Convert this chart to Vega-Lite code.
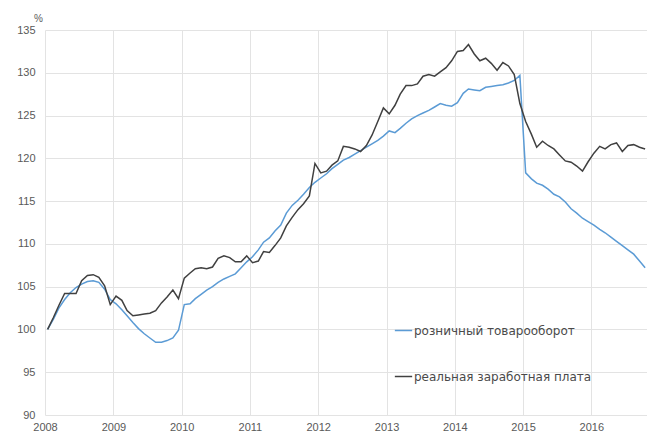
{
  "$schema": "https://vega.github.io/schema/vega-lite/v6.json",
  "width": 602,
  "height": 385,
  "autosize": {"type": "none"},
  "padding": {"left": 45, "top": 30, "right": 0, "bottom": 19},
  "background": "white",
  "config": {"view": {"stroke": null}, "font": "Liberation Sans"},
  "data": {"values": [
    {"date": "2008-01-15", "retail": 100.0, "wage": 100.0},
    {"date": "2008-02-15", "retail": 101.2, "wage": 101.4},
    {"date": "2008-03-15", "retail": 102.5, "wage": 102.8},
    {"date": "2008-04-15", "retail": 103.5, "wage": 104.2},
    {"date": "2008-05-15", "retail": 104.3, "wage": 104.2},
    {"date": "2008-06-15", "retail": 104.9, "wage": 104.2},
    {"date": "2008-07-15", "retail": 105.3, "wage": 105.7},
    {"date": "2008-08-15", "retail": 105.6, "wage": 106.3},
    {"date": "2008-09-15", "retail": 105.7, "wage": 106.4},
    {"date": "2008-10-15", "retail": 105.5, "wage": 106.1},
    {"date": "2008-11-15", "retail": 104.7, "wage": 105.1},
    {"date": "2008-12-15", "retail": 103.5, "wage": 102.9},
    {"date": "2009-01-15", "retail": 103.0, "wage": 103.9},
    {"date": "2009-02-15", "retail": 102.3, "wage": 103.4},
    {"date": "2009-03-15", "retail": 101.6, "wage": 102.2},
    {"date": "2009-04-15", "retail": 100.8, "wage": 101.6},
    {"date": "2009-05-15", "retail": 100.1, "wage": 101.7},
    {"date": "2009-06-15", "retail": 99.5, "wage": 101.8},
    {"date": "2009-07-15", "retail": 99.0, "wage": 101.9},
    {"date": "2009-08-15", "retail": 98.5, "wage": 102.2},
    {"date": "2009-09-15", "retail": 98.5, "wage": 103.1},
    {"date": "2009-10-15", "retail": 98.7, "wage": 103.8},
    {"date": "2009-11-15", "retail": 99.0, "wage": 104.6},
    {"date": "2009-12-15", "retail": 99.9, "wage": 103.6},
    {"date": "2010-01-15", "retail": 102.9, "wage": 106.0},
    {"date": "2010-02-15", "retail": 103.0, "wage": 106.6},
    {"date": "2010-03-15", "retail": 103.6, "wage": 107.1},
    {"date": "2010-04-15", "retail": 104.1, "wage": 107.2},
    {"date": "2010-05-15", "retail": 104.6, "wage": 107.1},
    {"date": "2010-06-15", "retail": 105.0, "wage": 107.3},
    {"date": "2010-07-15", "retail": 105.5, "wage": 108.3},
    {"date": "2010-08-15", "retail": 105.9, "wage": 108.6},
    {"date": "2010-09-15", "retail": 106.2, "wage": 108.4},
    {"date": "2010-10-15", "retail": 106.5, "wage": 107.9},
    {"date": "2010-11-15", "retail": 107.2, "wage": 107.9},
    {"date": "2010-12-15", "retail": 107.9, "wage": 108.6},
    {"date": "2011-01-15", "retail": 108.5, "wage": 107.8},
    {"date": "2011-02-15", "retail": 109.3, "wage": 108.0},
    {"date": "2011-03-15", "retail": 110.2, "wage": 109.1},
    {"date": "2011-04-15", "retail": 110.7, "wage": 109.0},
    {"date": "2011-05-15", "retail": 111.5, "wage": 109.8},
    {"date": "2011-06-15", "retail": 112.2, "wage": 110.7},
    {"date": "2011-07-15", "retail": 113.6, "wage": 112.1},
    {"date": "2011-08-15", "retail": 114.5, "wage": 113.1},
    {"date": "2011-09-15", "retail": 115.1, "wage": 114.0},
    {"date": "2011-10-15", "retail": 115.8, "wage": 114.7},
    {"date": "2011-11-15", "retail": 116.6, "wage": 115.6},
    {"date": "2011-12-15", "retail": 117.2, "wage": 119.4},
    {"date": "2012-01-15", "retail": 117.7, "wage": 118.3},
    {"date": "2012-02-15", "retail": 118.2, "wage": 118.5},
    {"date": "2012-03-15", "retail": 118.8, "wage": 119.2},
    {"date": "2012-04-15", "retail": 119.3, "wage": 119.7},
    {"date": "2012-05-15", "retail": 119.8, "wage": 121.4},
    {"date": "2012-06-15", "retail": 120.1, "wage": 121.3},
    {"date": "2012-07-15", "retail": 120.5, "wage": 121.1},
    {"date": "2012-08-15", "retail": 120.9, "wage": 120.8},
    {"date": "2012-09-15", "retail": 121.3, "wage": 121.5},
    {"date": "2012-10-15", "retail": 121.7, "wage": 122.7},
    {"date": "2012-11-15", "retail": 122.1, "wage": 124.3},
    {"date": "2012-12-15", "retail": 122.6, "wage": 125.9},
    {"date": "2013-01-15", "retail": 123.2, "wage": 125.2},
    {"date": "2013-02-15", "retail": 123.0, "wage": 126.2},
    {"date": "2013-03-15", "retail": 123.5, "wage": 127.5},
    {"date": "2013-04-15", "retail": 124.1, "wage": 128.5},
    {"date": "2013-05-15", "retail": 124.6, "wage": 128.5},
    {"date": "2013-06-15", "retail": 125.0, "wage": 128.7},
    {"date": "2013-07-15", "retail": 125.3, "wage": 129.6},
    {"date": "2013-08-15", "retail": 125.6, "wage": 129.8},
    {"date": "2013-09-15", "retail": 126.0, "wage": 129.6},
    {"date": "2013-10-15", "retail": 126.4, "wage": 130.1},
    {"date": "2013-11-15", "retail": 126.2, "wage": 130.6},
    {"date": "2013-12-15", "retail": 126.1, "wage": 131.4},
    {"date": "2014-01-15", "retail": 126.5, "wage": 132.5},
    {"date": "2014-02-15", "retail": 127.6, "wage": 132.6},
    {"date": "2014-03-15", "retail": 128.1, "wage": 133.3},
    {"date": "2014-04-15", "retail": 128.0, "wage": 132.2},
    {"date": "2014-05-15", "retail": 127.9, "wage": 131.4},
    {"date": "2014-06-15", "retail": 128.3, "wage": 131.7},
    {"date": "2014-07-15", "retail": 128.4, "wage": 131.1},
    {"date": "2014-08-15", "retail": 128.5, "wage": 130.3},
    {"date": "2014-09-15", "retail": 128.6, "wage": 131.2},
    {"date": "2014-10-15", "retail": 128.8, "wage": 130.8},
    {"date": "2014-11-15", "retail": 129.1, "wage": 129.8},
    {"date": "2014-12-15", "retail": 129.7, "wage": 126.4},
    {"date": "2015-01-15", "retail": 118.3, "wage": 124.3},
    {"date": "2015-02-15", "retail": 117.6, "wage": 122.8},
    {"date": "2015-03-15", "retail": 117.1, "wage": 121.3},
    {"date": "2015-04-15", "retail": 116.85, "wage": 122.0},
    {"date": "2015-05-15", "retail": 116.4, "wage": 121.5},
    {"date": "2015-06-15", "retail": 115.8, "wage": 121.1},
    {"date": "2015-07-15", "retail": 115.5, "wage": 120.4},
    {"date": "2015-08-15", "retail": 114.9, "wage": 119.7},
    {"date": "2015-09-15", "retail": 114.1, "wage": 119.55},
    {"date": "2015-10-15", "retail": 113.6, "wage": 119.1},
    {"date": "2015-11-15", "retail": 113.0, "wage": 118.5},
    {"date": "2015-12-15", "retail": 112.6, "wage": 119.6},
    {"date": "2016-01-15", "retail": 112.2, "wage": 120.6},
    {"date": "2016-02-15", "retail": 111.7, "wage": 121.4},
    {"date": "2016-03-15", "retail": 111.3, "wage": 121.1},
    {"date": "2016-04-15", "retail": 110.8, "wage": 121.6},
    {"date": "2016-05-15", "retail": 110.3, "wage": 121.8},
    {"date": "2016-06-15", "retail": 109.8, "wage": 120.8},
    {"date": "2016-07-15", "retail": 109.3, "wage": 121.5},
    {"date": "2016-08-15", "retail": 108.8, "wage": 121.6},
    {"date": "2016-09-15", "retail": 108.0, "wage": 121.3},
    {"date": "2016-10-15", "retail": 107.2, "wage": 121.1}
  ]},
  "transform": [
    {"fold": ["retail", "wage"], "as": ["series", "value"]}
  ],
  "mark": {"type": "line", "strokeWidth": 1.5, "clip": true},
  "encoding": {
    "x": {
      "field": "date",
      "type": "temporal",
      "scale": {
        "type": "utc",
        "domain": [
          {"year": 2008, "month": 1, "date": 1, "utc": true},
          {"year": 2016, "month": 10, "date": 25, "utc": true}
        ]
      },
      "axis": {
        "title": null,
        "format": "%Y",
        "tickCount": {"interval": "year", "step": 1},
        "grid": true,
        "gridColor": "#e3e3e3",
        "domain": false,
        "ticks": false,
        "labelColor": "#595959",
        "labelFontSize": 11,
        "labelPadding": 6,
        "labelFlush": false,
        "labelOverlap": false
      }
    },
    "y": {
      "field": "value",
      "type": "quantitative",
      "scale": {"domain": [90, 135], "nice": false, "zero": false},
      "axis": {
        "values": [90, 95, 100, 105, 110, 115, 120, 125, 130, 135],
        "title": "%",
        "titleAngle": 0,
        "titleX": -7,
        "titleY": -12,
        "titleAlign": "center",
        "titleBaseline": "middle",
        "titleFontSize": 10,
        "titleFontWeight": "normal",
        "titleColor": "#595959",
        "grid": true,
        "gridColor": "#e3e3e3",
        "domain": false,
        "ticks": false,
        "labelPadding": 10,
        "labelColor": "#595959",
        "labelFontSize": 11
      }
    },
    "color": {
      "field": "series",
      "type": "nominal",
      "scale": {
        "domain": ["retail", "wage"],
        "range": ["#5b9bd5", "#404040"]
      },
      "legend": {
        "orient": "none",
        "legendX": 349,
        "legendY": 291,
        "title": null,
        "direction": "vertical",
        "symbolType": "stroke",
        "symbolSize": 300,
        "symbolStrokeWidth": 1.5,
        "labelFontSize": 12,
        "labelFont": "DejaVu Sans",
        "labelColor": "#4a4a4a",
        "labelOffset": 1,
        "labelLimit": 400,
        "rowPadding": 30,
        "labelExpr": "datum.label == 'retail' ? 'розничный товарооборот' : 'реальная заработная плата'"
      }
    }
  }
}
